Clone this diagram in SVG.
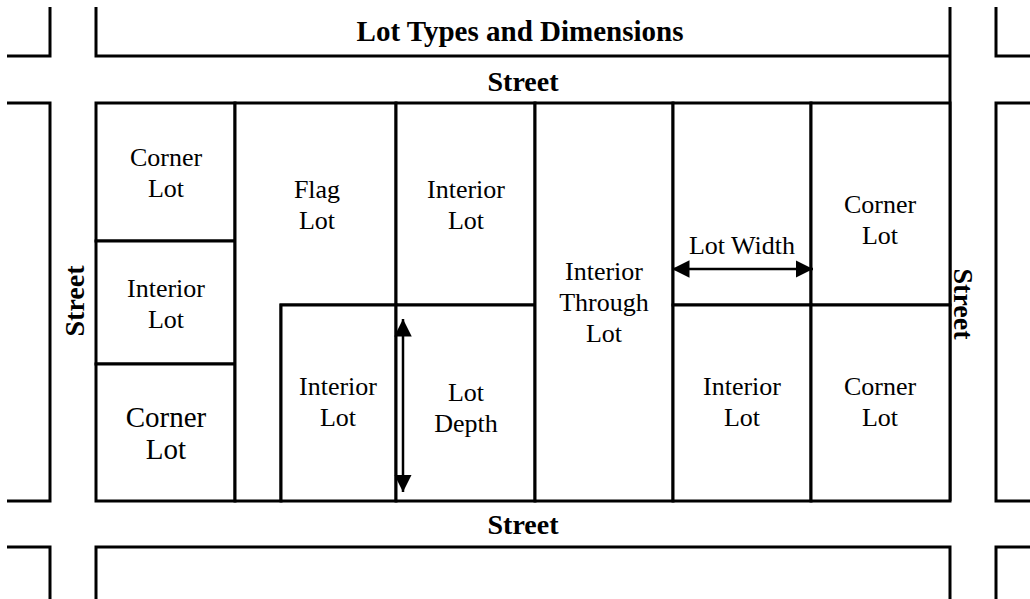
<svg xmlns="http://www.w3.org/2000/svg" width="1030" height="599" viewBox="0 0 1030 599">
<defs>
<style>
.ln{fill:none;stroke:#000;stroke-width:3;stroke-linecap:butt;stroke-linejoin:miter}
.lot{fill:#fff;stroke:#000;stroke-width:3}
.t{font-family:"Liberation Serif","Times New Roman",serif;font-size:26px;fill:#000;text-anchor:middle}
.tb{font-family:"Liberation Serif","Times New Roman",serif;font-size:28px;font-weight:bold;fill:#000;text-anchor:middle}
.title{font-size:29px}
.big{font-size:29px}
.arr{fill:none;stroke:#000;stroke-width:2.5}
</style>
<marker id="ah" viewBox="0 0 10 10" refX="10" refY="5" markerWidth="7" markerHeight="7" markerUnits="strokeWidth" orient="auto-start-reverse">
<path d="M0,0 L10,5 L0,10 Z" fill="#000"/>
</marker>
</defs>
<rect width="1030" height="599" fill="#fff"/>
<g id="streets">
<path class="ln" d="M7,56 H50 V7"/>
<path class="ln" d="M96,7 V56 H950"/>
<path class="ln" d="M950,7 V501"/>
<path class="ln" d="M1030,56 H996 V7"/>
<path class="ln" d="M7,103 H50 V501 H7"/>
<path class="ln" d="M1030,103 H996 V501 H1030"/>
<path class="ln" d="M7,547 H50 V599"/>
<path class="ln" d="M96,599 V547 H950 V599"/>
<path class="ln" d="M1030,547 H996 V599"/>
<text class="tb title" x="520" y="41">Lot Types and Dimensions</text>
<text class="tb" x="523" y="91">Street</text>
<text class="tb" x="523" y="534">Street</text>
<text class="tb" transform="translate(84,301) rotate(-90)" x="0" y="0">Street</text>
<text class="tb" transform="translate(954,304) rotate(90)" x="0" y="0">Street</text>
</g>
<g id="lot-corner-tl">
<rect class="lot" x="96" y="103" width="139" height="138"/>
<text class="t" x="166" y="166">Corner</text>
<text class="t" x="166" y="197">Lot</text>
</g>
<g id="lot-interior-l">
<rect class="lot" x="96" y="241" width="139" height="123"/>
<text class="t" x="166" y="297">Interior</text>
<text class="t" x="166" y="328">Lot</text>
</g>
<g id="lot-corner-bl">
<rect class="lot" x="96" y="364" width="139" height="137"/>
<text class="t big" x="166" y="427">Corner</text>
<text class="t big" x="166" y="459">Lot</text>
</g>
<g id="lot-flag">
<path class="lot" d="M235,103 H396 V305 H281 V501 H235 Z"/>
<text class="t" x="317" y="198">Flag</text>
<text class="t" x="317" y="229">Lot</text>
</g>
<g id="lot-interior-top">
<rect class="lot" x="396" y="103" width="139" height="202"/>
<text class="t" x="466" y="198">Interior</text>
<text class="t" x="466" y="229">Lot</text>
</g>
<g id="lot-interior-flag">
<rect class="lot" x="281" y="305" width="115" height="196"/>
<text class="t" x="338" y="395">Interior</text>
<text class="t" x="338" y="426">Lot</text>
</g>
<g id="lot-depth">
<rect class="lot" x="396" y="305" width="139" height="196"/>
<text class="t" x="466" y="401">Lot</text>
<text class="t" x="466" y="432">Depth</text>
</g>
<g id="lot-through">
<rect class="lot" x="535" y="103" width="138" height="398"/>
<text class="t" x="604" y="280">Interior</text>
<text class="t" x="604" y="311">Through</text>
<text class="t" x="604" y="342">Lot</text>
</g>
<g id="lot-width">
<rect class="lot" x="673" y="103" width="138" height="202"/>
<text class="t" x="742" y="254">Lot Width</text>
</g>
<g id="lot-corner-tr">
<rect class="lot" x="811" y="103" width="139" height="202"/>
<text class="t" x="880" y="213">Corner</text>
<text class="t" x="880" y="244">Lot</text>
</g>
<g id="lot-interior-br">
<rect class="lot" x="673" y="305" width="138" height="196"/>
<text class="t" x="742" y="395">Interior</text>
<text class="t" x="742" y="426">Lot</text>
</g>
<g id="lot-corner-br">
<rect class="lot" x="811" y="305" width="139" height="196"/>
<text class="t" x="880" y="395">Corner</text>
<text class="t" x="880" y="426">Lot</text>
</g>
<g id="connectors">
<line class="arr" x1="403" y1="319" x2="403" y2="492" marker-start="url(#ah)" marker-end="url(#ah)"/>
<line class="arr" x1="672" y1="269" x2="813" y2="269" marker-start="url(#ah)" marker-end="url(#ah)"/>
</g>
</svg>
